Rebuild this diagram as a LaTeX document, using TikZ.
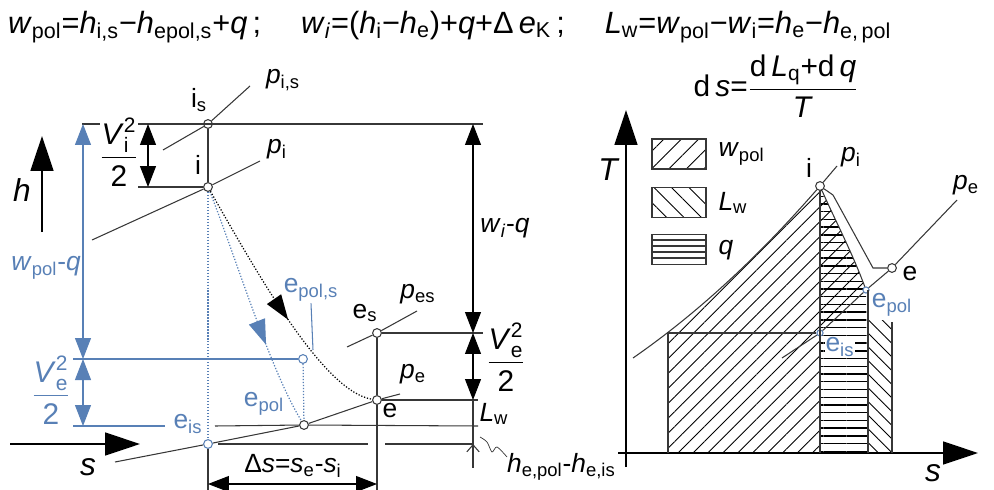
\documentclass[tikz,border=0pt]{standalone}
\usepackage{amsmath}
\usepackage{fontspec}
\setmainfont{Liberation Sans}
\usetikzlibrary{arrows.meta, positioning, patterns.meta, decorations.markings}
\definecolor{hsblue}{RGB}{88,128,182}
\definecolor{drk}{RGB}{55,55,55}
\newcommand{\sbs}[1]{\textsubscript{#1}}
\newcommand{\vi}[1]{\textit{#1}}
\newcommand{\halfsq}[1]{$\dfrac{\text{\vi{V}}^{\text{2}}_{\text{#1}}}{\text{2}}$}
\tikzset{
    lbl/.style={font=\fontsize{15}{18}\selectfont, inner sep=1pt},
    biglbl/.style={font=\fontsize{17}{20}\selectfont, inner sep=1pt},
    axlbl/.style={font=\fontsize{18}{21}\selectfont\itshape, inner sep=1pt},
    bluelbl/.style={lbl, text=hsblue},
    pt/.style={circle, draw=drk, fill=white, line width=0.6pt, inner sep=0pt, minimum size=5pt},
    bluept/.style={pt, draw=hsblue},
    ln/.style={drk, line width=0.6pt},
    blueln/.style={hsblue, line width=0.6pt},
    axis/.style={arrows={-Triangle[length=0.7cm,width=0.46cm]}, line width=0.8pt},
    dim/.style={arrows={Triangle[length=0.42cm,width=0.32cm]-Triangle[length=0.42cm,width=0.32cm]}, line width=0.6pt},
    dotcurve/.style={densely dotted, line width=0.7pt},
    legbox/.style={draw=drk, line width=0.6pt, minimum width=1.08cm, minimum height=0.6cm, inner sep=0pt},
    midarrow/.style={postaction={decorate, decoration={markings, mark=at position #1 with {\arrow{Triangle[length=0.5cm,width=0.34cm]}}}}}
}
\begin{document}
\begin{tikzpicture}[x=0.02cm, y=-0.02cm]
\useasboundingbox (0,0) rectangle (994,490);

% formulas
\node[biglbl, font=\fontsize{17.5}{20}\selectfont, anchor=west] (eqtop) at (6,27) {\vi{w}\sbs{pol}=\vi{h}\sbs{i,s}−\vi{h}\sbs{epol,s}+\vi{q}\,;\hspace{1.3em}\vi{w}\sbs{\vi{i}}=(\vi{h}\sbs{i}−\vi{h}\sbs{e})+\vi{q}+Δ\,\vi{e}\sbs{K}\,;\hspace{1.3em}\vi{L}\sbs{w}=\vi{w}\sbs{pol}−\vi{w}\sbs{i}=\vi{h}\sbs{e}−\vi{h}\sbs{e,\,pol}};
\node[biglbl] (eqds) at (776,86) {d\,\vi{s}=$\dfrac{\text{d\,\vi{L}\sbs{q}+d\,\vi{q}}}{\text{\vi{T}}}$};

% h-s diagram
\coordinate (h0) at (42,232);
\coordinate (h1) at (42,136);
\draw[axis] (h0) -- (h1);
\coordinate (s0) at (10,444);
\coordinate (s1) at (140,444);
\draw[axis] (s0) -- (s1);

\node[pt] (is) at (208,124) {};
\node[pt] (i) at (208,187) {};
\node[pt] (es) at (377,333) {};
\node[pt] (e) at (377,400) {};
\node[bluept] (epols) at (303,359) {};
\node[pt] (epol) at (304,425) {};
\node[bluept] (eis) at (208,444) {};

\draw[ln] (163,150) -- (is) -- (250,86);
\draw[ln] (92,240) -- (i) -- (260,161);
\draw[ln] (347,347) -- (es) -- (417,311);
\draw[ln] (115,462) -- (eis) -- (epol) -- (e) -- (400,394);
\draw[dotcurve, hsblue] (i) -- (eis);
\draw[dotcurve, hsblue] (epols) -- (epol);
\draw[dotcurve, hsblue, midarrow=0.66] (i) .. controls (235,255) and (270,370) .. (epol);
\draw[dotcurve, midarrow=0.56] (i) .. controls (262,282) and (325,392) .. (e);
\draw[ln] (is) -- (i);
\draw[ln] (es) -- (e) -- (377,490);
\draw[ln] (eis) -- (208,490);

% levels
\draw[ln] (82,124) -- (483,124);
\draw[ln] (138,187) -- (i);
\draw[ln] (es) -- (483,333);
\draw[ln] (e) -- (478,400);
\draw[ln] (215,426) -- (epol) -- (478,426);
\draw[ln] (218,444) -- (368,444);
\draw[ln] (385,444) -- (473,444);
\draw[blueln] (73,359) -- (epols);
\draw[blueln] (73,426) -- (165,426);

% dimensions
\draw[dim] (148,124) -- (148,187);
\draw[dim] (473,124) -- (473,333);
\draw[dim] (473,333) -- (473,400);
\draw[ln] (473,400) -- (473,468);
\draw[ln, arrows={-Straight Barb[length=4pt,width=7pt]}] (473,458) -- (473,444);
\draw[dim, hsblue] (83,124) -- (83,359);
\draw[dim, hsblue] (83,359) -- (83,426);
\draw[dim] (208,484) -- (377,484);
\draw[ln, thin] plot[smooth] coordinates {(480,437) (487,442) (492,452) (497,447) (507,457)};

% labels
\node[axlbl] (hlbl) at (22,190) {h};
\node[axlbl] (slbl) at (88,467) {s};
\node[lbl] (islbl) at (199,100) {i\sbs{s}};
\node[lbl] (pislbl) at (283,80) {\vi{p}\sbs{i,s}};
\node[biglbl, fill=white, inner sep=0pt] (vilbl) at (119,152) {\halfsq{i}};
\node[lbl] (ilbl) at (198,165) {i};
\node[lbl] (pilbl) at (277,149) {\vi{p}\sbs{i}};
\node[bluelbl] (wpollbl) at (46,268) {\vi{w}\sbs{pol}-\vi{q}};
\node[lbl] (wilbl) at (505,228) {\vi{w}\sbs{\vi{i}}-\vi{q}};
\node[bluelbl] (epolslbl) at (311,290) {e\sbs{pol,s}};
\coordinate (epolsend) at (313,350);
\draw[blueln] (epolslbl.south) -- (epolsend);
\node[lbl] (eslbl) at (365,313) {e\sbs{s}};
\node[lbl] (peslbl) at (418,294) {\vi{p}\sbs{es}};
\node[bluelbl] (epollbl) at (264,404) {e\sbs{pol}};
\node[bluelbl] (eislbl) at (188,424) {e\sbs{is}};
\node[lbl] (pelbl) at (413,374) {\vi{p}\sbs{e}};
\node[lbl] (elbl) at (390,411) {e};
\node[biglbl, text=hsblue] (velbl) at (51,390) {\halfsq{e}};
\node[biglbl] (verlbl) at (506,357) {\halfsq{e}};
\node[lbl] (lwlbl) at (494,414) {\vi{L}\sbs{w}};
\node[lbl, anchor=west] (dhlbl) at (505,467) {\vi{h}\sbs{e,pol}-\vi{h}\sbs{e,is}};
\node[lbl] (dslbl) at (293,466) {Δ\vi{s}=\vi{s}\sbs{e}-\vi{s}\sbs{i}};

% T-s diagram: areas
\fill[pattern={Lines[angle=45,distance=6pt,line width=0.5pt]}] (668,453) -- (668,332) .. controls (720,291) and (770,243) .. (820,186) .. controls (834,218) and (852,252) .. (866,290) -- (820,333) -- (820,453) -- cycle;
\fill[pattern={Lines[angle=0,distance=4.4pt,line width=0.8pt]}] (820,453) -- (820,186) .. controls (834,218) and (852,252) .. (866,290) -- (868,453) -- cycle;
\fill[pattern={Lines[angle=-45,distance=5.5pt,line width=0.5pt]}] (868,320) rectangle (892,453);

\coordinate (T0) at (626,467);
\coordinate (T1) at (626,110);
\draw[axis] (T0) -- (T1);
\coordinate (Ts0) at (618,453);
\coordinate (Ts1) at (978,453);
\draw[axis] (Ts0) -- (Ts1);

\node[pt] (Ti) at (820,186) {};
\node[pt] (Te) at (892,268) {};
\node[bluept, minimum size=3.5pt] (Tepol) at (866,290) {};
\node[bluept, minimum size=3.5pt] (Teis) at (820,333) {};

\draw[ln] (668,453) -- (668,333) -- (Teis);
\draw[ln] (Ti) -- (820,453);
\draw[ln] (868,290) -- (868,453);
\draw[ln] (892,322) -- (892,453);
\draw[ln] (633,358) .. controls (698,313) and (759,256) .. (Ti) -- (837,166);
\draw[ln] (Ti) .. controls (834,218) and (852,252) .. (Tepol);
\draw[ln] (Ti) -- (833,195) -- (873,268) -- (Te);
\draw[ln] (782,358) -- (Teis) -- (Tepol) -- (Te) -- (957,200);

% legend
\node[legbox, pattern={Lines[angle=45,distance=7pt,line width=0.5pt]}] (legwpol) at (679,154) {};
\node[legbox, pattern={Lines[angle=-45,distance=7pt,line width=0.5pt]}, below=0.36cm of legwpol] (leglw) {};
\node[legbox, below=0.32cm of leglw] (legq) {};
\foreach \k in {1,...,4}
    \draw[drk, line width=1pt] ([yshift=-\k*0.12cm]legq.north west) -- ([yshift=-\k*0.12cm]legq.north east);
\node[lbl, right=0.2cm of legwpol] (legwpollbl) {\vi{w}\sbs{pol}};
\node[lbl, right=0.2cm of leglw] (leglwlbl) {\vi{L}\sbs{w}};
\node[lbl, right=0.2cm of legq] (legqlbl) {\vi{q}};

% T-s labels
\node[axlbl] (Tlbl) at (608,170) {T};
\node[axlbl] (Tslbl) at (933,473) {s};
\node[lbl] (Tilbl) at (809,168) {i};
\node[lbl] (Tpilbl) at (851,157) {\vi{p}\sbs{i}};
\node[lbl] (Tpelbl) at (966,185) {\vi{p}\sbs{e}};
\node[lbl] (Telbl) at (910,274) {e};
\node[bluelbl, fill=white, inner sep=0.5pt] (Tepollbl) at (892,305) {e\sbs{pol}};
\node[bluelbl, fill=white, inner sep=0.5pt] (Teislbl) at (840,347) {e\sbs{is}};
\end{tikzpicture}
\end{document}
